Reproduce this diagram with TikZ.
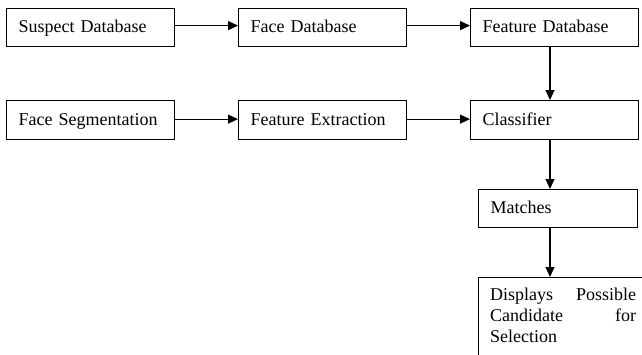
\documentclass[tikz,border=0pt]{standalone}
\usepackage{fontspec}
\setmainfont{Liberation Serif}
\usetikzlibrary{arrows.meta}
\begin{document}
\begin{tikzpicture}[x=1pt,y=-1pt,
  every node/.style={font=\fontsize{18}{21}\selectfont},
  block/.style={draw, line width=1.2pt, anchor=north west, align=left,
    minimum height=38pt, inner xsep=12pt, inner ysep=0pt,
    text height=12.5pt, text depth=2.5pt, text width=144pt},
  arr/.style={line width=1.1pt, -{Triangle[length=10pt,width=9pt]}}]
  \clip (0,0) rectangle (642,354);
  % top row
  \node[block] (sdb) at (6,8) {Suspect Database};
  \node[block] (fdb) at (238,8) {Face Database};
  \node[block] (ftdb) at (470,8) {Feature Database};
  % second row
  \node[block, minimum height=39pt] (seg) at (6,100) {Face Segmentation};
  \node[block, minimum height=39pt] (ext) at (238,100) {Feature Extraction};
  \node[block, minimum height=39pt] (cls) at (470,100) {Classifier};
  % output column
  \node[block, text width=135pt] (mat) at (478,189) {Matches};
  \node[draw, line width=1.2pt, anchor=north west, minimum width=180pt,
    minimum height=110pt, inner sep=0pt] (disp) at (478,277) {};
  \node[anchor=base west, text width=146pt, align=left, inner sep=0pt]
    (disptext) at ([xshift=12pt,yshift=-23.5pt]disp.north west)
    {Displays\hfill Possible\\ Candidate\hfill for\\ Selection};
  % connectors
  \draw[arr] ([yshift=2pt]sdb.east) -- ([yshift=2pt]fdb.west);
  \draw[arr] ([yshift=2pt]fdb.east) -- ([yshift=2pt]ftdb.west);
  \draw[arr] ([yshift=1pt]seg.east) -- ([yshift=1pt]ext.west);
  \draw[arr] ([yshift=1pt]ext.east) -- ([yshift=1pt]cls.west);
  \draw[arr] ([xshift=80pt]ftdb.south west) -- ([xshift=80pt]ftdb.south west |- cls.north);
  \draw[arr] ([xshift=80pt]cls.south west) -- ([xshift=80pt]cls.south west |- mat.north);
  \draw[arr] ([xshift=72pt]mat.south west) -- ([xshift=72pt]mat.south west |- disp.north);
\end{tikzpicture}
\end{document}
